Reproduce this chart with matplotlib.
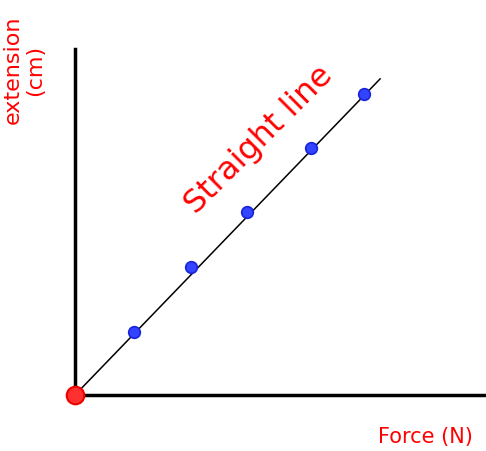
import matplotlib.pyplot as plt

# readings from the sketch (arbitrary units)
force = [1.02, 2.0, 2.97, 4.07, 4.98]
extension = [1.09, 2.21, 3.16, 4.26, 5.19]
line_end = (5.26, 5.45)

fig = plt.figure(figsize=(4.86, 4.52), dpi=100)
W, H = 486, 452
# origin of the sketch at pixel (75, 396), 58 px per unit
ax = fig.add_axes([75 / W, (H - 396) / H, (487 - 75) / W, (396 - 50) / H])
ax.set_xlim(0, 412 / 58)
ax.set_ylim(0, 346 / 58)

for s in ['top', 'right']:
    ax.spines[s].set_visible(False)
ax.spines['left'].set_linewidth(2.5)
ax.spines['bottom'].set_linewidth(2.5)
ax.spines['bottom'].set_bounds(-0.06, 412 / 58)
ax.set_xticks([])
ax.set_yticks([])

# line of best fit through the origin
ax.plot([0, line_end[0]], [0, line_end[1]], color='black', lw=1.1, clip_on=False)

# data points
ax.scatter(force, extension, s=70, color='#3344ff', edgecolors='#1a22dd',
           linewidths=1.2, marker='o', zorder=3, clip_on=False)

# origin marker
ax.scatter([0], [0], s=160, color='#ff3030', edgecolors='#ee0000',
           linewidths=1.5, zorder=4, clip_on=False)

fig.text(24 / W, 1 - 70 / H, 'extension\n(cm)', rotation=90, color='red',
         fontsize=16, ha='center', va='center', linespacing=1.1)
fig.text(425 / W, 1 - 437 / H, 'Force (N)', color='red', fontsize=15,
         ha='center', va='center')
fig.text(259 / W, 1 - 140 / H, 'Straight line', color='red', fontsize=23,
         rotation=45, ha='center', va='center')

fig.savefig('out.png', dpi=100)
